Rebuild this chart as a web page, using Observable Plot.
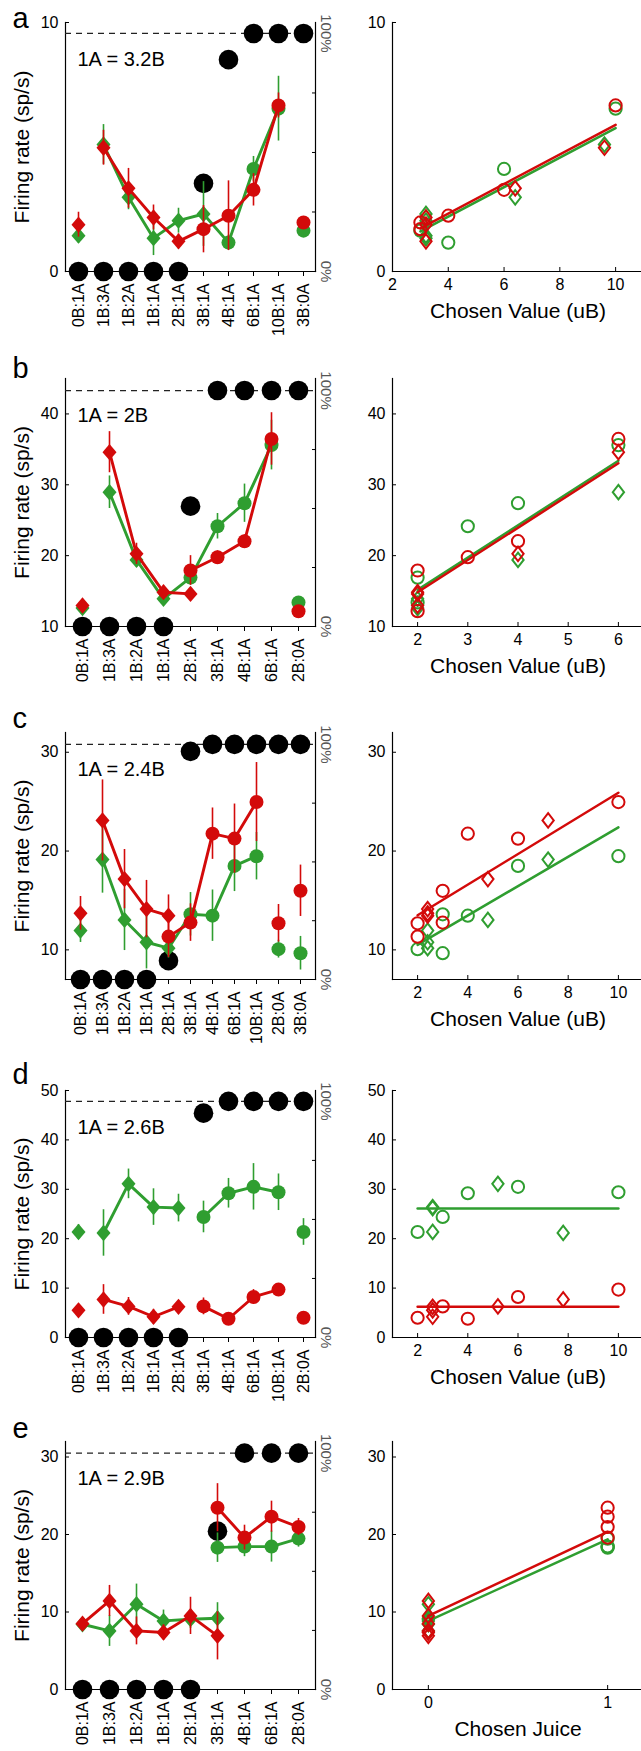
<!DOCTYPE html>
<html><head><meta charset="utf-8">
<script src="https://cdn.jsdelivr.net/npm/d3@7"></script>
<script src="https://cdn.jsdelivr.net/npm/@observablehq/plot@0.6"></script>
<style>
body{margin:0;background:#fff;}
#root{position:relative;width:641px;height:1751px;overflow:hidden;background:#fff;}
#root svg{position:absolute;}
</style></head><body><div id="root"></div>
<script>
// ---------- DATA ----------
// Panel a
const aCats = ["0B:1A","1B:3A","1B:2A","1B:1A","2B:1A","3B:1A","4B:1A","6B:1A","10B:1A","3B:0A"];
const aRatio = 3.2;
const aPctB = [0,0,0,0,0,37,89,100,100,100];
const aGreenA = [1.44,5.10,2.98,1.34,2.04,2.31,null,null,null,null];
const aGreenAErr = [0.3,0.8,0.5,0.7,0.5,1.3,null,null,null,null];
const aGreenB = [null,null,null,null,null,null,1.16,4.12,6.54,1.64];
const aGreenBErr = [null,null,null,null,null,null,0.3,0.5,1.3,0.2];
const aRedA = [1.88,4.97,3.34,2.17,1.21,null,null,null,null,null];
const aRedAErr = [0.5,0.7,0.8,0.5,0.3,null,null,null,null,null];
const aRedB = [null,null,null,null,null,1.70,2.24,3.28,6.67,1.97];
const aRedBErr = [null,null,null,null,null,0.95,1.4,0.65,0.5,0.2];
const aBreaks = [1,9];
const aYDomain = [0,10], aYTicks = [0,10], aFull = 9.56;
const aXDomain = [2,11], aXTicks = [2,4,6,8,10];
const aFitX = [3,10], aFitGreen = [1.61,5.76], aFitRed = [1.73,5.89];

// Panel b
const bCats = ["0B:1A","1B:3A","1B:2A","1B:1A","2B:1A","3B:1A","4B:1A","6B:1A","2B:0A"];
const bRatio = 2;
const bPctB = [0,0,0,0,51,100,100,100,100];
const bGreenA = [12.6,28.95,19.4,13.9,null,null,null,null,null];
const bGreenAErr = [0.5,2.3,1.0,0.6,null,null,null,null,null];
const bGreenB = [null,null,null,null,16.9,24.15,27.4,35.6,13.4];
const bGreenBErr = [null,null,null,null,1.0,1.8,2.7,3.5,0.4];
const bRedA = [12.96,34.6,20.25,14.84,14.6,null,null,null,null];
const bRedAErr = [0.6,2.9,1.5,0.8,0.6,null,null,null,null];
const bRedB = [null,null,null,null,17.9,19.78,22.04,36.47,12.16];
const bRedBErr = [null,null,null,null,2.1,0.9,0.9,3.7,0.4];
const bBreaks = [1,8];
const bYDomain = [10,45], bYTicks = [10,20,30,40], bFull = 43.3;
const bXDomain = [1.5,6.5], bXTicks = [2,3,4,5,6];
const bFitX = [2,6], bFitGreen = [15.17,33.4], bFitRed = [14.84,33.04];

// Panel c
const cCats = ["0B:1A","1B:3A","1B:2A","1B:1A","2B:1A","3B:1A","4B:1A","6B:1A","10B:1A","2B:0A","3B:0A"];
const cRatio = 2.4;
const cPctB = [0,0,0,0,8,97,100,100,100,100,100];
const cGreenA = [11.95,19.14,13.03,10.77,10.17,null,null,null,null,null,null];
const cGreenAErr = [1.2,3.4,3.1,2.7,1.0,null,null,null,null,null,null];
const cGreenB = [null,null,null,null,null,13.6,13.46,18.5,19.48,10.07,9.66];
const cGreenBErr = [null,null,null,null,null,2.2,2.6,2.6,2.4,0.9,1.7];
const cRedA = [13.7,23.1,17.16,14.13,13.46,null,null,null,null,null,null];
const cRedAErr = [1.7,4.1,3.0,2.9,2.1,null,null,null,null,null,null];
const cRedB = [null,null,null,null,11.34,12.76,21.76,21.26,24.96,12.69,15.98];
const cRedBErr = [null,null,null,null,2.1,1.9,2.6,3.5,4.0,1.9,2.6];
const cBreaks = [1,9,10];
const cYDomain = [7,32], cYTicks = [10,20,30], cFull = 30.8;
const cXDomain = [1,11], cXTicks = [2,4,6,8,10];
const cFitX = [2,10], cFitGreen = [10.5,22.4], cFitRed = [13.5,25.9];

// Panel d
const dCats = ["0B:1A","1B:3A","1B:2A","1B:1A","2B:1A","3B:1A","4B:1A","6B:1A","10B:1A","2B:0A"];
const dRatio = 2.6;
const dPctB = [0,0,0,0,0,95,100,100,100,100];
const dGreenA = [21.36,21.16,31.1,26.4,26.2,null,null,null,null,null];
const dGreenAErr = [1.5,4.7,3.0,3.7,2.8,null,null,null,null,null];
const dGreenB = [null,null,null,null,null,24.4,29.2,30.5,29.4,21.36];
const dGreenBErr = [null,null,null,null,null,3.2,3.0,4.7,3.7,2.7];
const dRedA = [5.5,7.7,6.3,4.2,6.2,null,null,null,null,null];
const dRedAErr = [0.8,3.0,1.8,1.5,1.0,null,null,null,null,null];
const dRedB = [null,null,null,null,null,6.3,3.8,8.2,9.7,4.0];
const dRedBErr = [null,null,null,null,null,1.7,0.8,1.5,0.6,0.6];
const dBreaks = [1,5,9];
const dYDomain = [0,50], dYTicks = [0,10,20,30,40,50], dFull = 47.8;
const dXDomain = [1,11], dXTicks = [2,4,6,8,10];
const dFitX = [2,10], dFitGreen = [26.1,26.1], dFitRed = [6.2,6.2];

// Panel e
const eCats = ["0B:1A","1B:3A","1B:2A","1B:1A","2B:1A","3B:1A","4B:1A","6B:1A","2B:0A"];
const eRatio = 2.9;
const ePctB = [0,0,0,0,0,67,100,100,100];
const eGreenA = [8.42,7.56,11.0,8.85,9.07,9.2,null,null,null];
const eGreenAErr = [0.5,2.0,2.6,1.4,1.2,2.0,null,null,null];
const eGreenB = [null,null,null,null,null,18.3,18.44,18.44,19.47];
const eGreenBErr = [null,null,null,null,null,1.9,1.3,2.0,1.1];
const eRedA = [8.5,11.43,7.56,7.35,9.5,6.92,null,null,null];
const eRedAErr = [0.5,2.0,1.8,1.0,2.4,3.1,null,null,null];
const eRedB = [null,null,null,null,null,23.46,19.6,22.3,20.97];
const eRedBErr = [null,null,null,null,null,3.1,1.6,2.0,1.1];
const eBreaks = [];
const eYDomain = [0,32], eYTicks = [0,10,20,30], eFull = 30.5;
const eXDomain = [-0.2,1.2], eXTicks = [0,1];
const eFitX = [0,1], eFitGreen = [8.85,19.38], eFitRed = [9.5,20.33];

const panelLetters = ["a","b","c","d","e"];
const yLabel = "Firing rate (sp/s)";
const xLabels = ["Chosen Value (uB)","Chosen Value (uB)","Chosen Value (uB)","Chosen Value (uB)","Chosen Juice"];

// ---------- build ----------
const specs = [
  {cats:aCats, ratio:aRatio, pct:aPctB, gA:aGreenA, gAe:aGreenAErr, gB:aGreenB, gBe:aGreenBErr, rA:aRedA, rAe:aRedAErr, rB:aRedB, rBe:aRedBErr, breaks:aBreaks, yDomain:aYDomain, yTicks:aYTicks, full:aFull, xDomain:aXDomain, xTicks:aXTicks, fitX:aFitX, fitG:aFitGreen, fitR:aFitRed, juice:false},
  {cats:bCats, ratio:bRatio, pct:bPctB, gA:bGreenA, gAe:bGreenAErr, gB:bGreenB, gBe:bGreenBErr, rA:bRedA, rAe:bRedAErr, rB:bRedB, rBe:bRedBErr, breaks:bBreaks, yDomain:bYDomain, yTicks:bYTicks, full:bFull, xDomain:bXDomain, xTicks:bXTicks, fitX:bFitX, fitG:bFitGreen, fitR:bFitRed, juice:false},
  {cats:cCats, ratio:cRatio, pct:cPctB, gA:cGreenA, gAe:cGreenAErr, gB:cGreenB, gBe:cGreenBErr, rA:cRedA, rAe:cRedAErr, rB:cRedB, rBe:cRedBErr, breaks:cBreaks, yDomain:cYDomain, yTicks:cYTicks, full:cFull, xDomain:cXDomain, xTicks:cXTicks, fitX:cFitX, fitG:cFitGreen, fitR:cFitRed, juice:false},
  {cats:dCats, ratio:dRatio, pct:dPctB, gA:dGreenA, gAe:dGreenAErr, gB:dGreenB, gBe:dGreenBErr, rA:dRedA, rAe:dRedAErr, rB:dRedB, rBe:dRedBErr, breaks:dBreaks, yDomain:dYDomain, yTicks:dYTicks, full:dFull, xDomain:dXDomain, xTicks:dXTicks, fitX:dFitX, fitG:dFitGreen, fitR:dFitRed, juice:false},
  {cats:eCats, ratio:eRatio, pct:ePctB, gA:eGreenA, gAe:eGreenAErr, gB:eGreenB, gBe:eGreenBErr, rA:eRedA, rAe:eRedAErr, rB:eRedB, rBe:eRedBErr, breaks:eBreaks, yDomain:eYDomain, yTicks:eYTicks, full:eFull, xDomain:eXDomain, xTicks:eXTicks, fitX:eFitX, fitG:eFitGreen, fitR:eFitRed, juice:true}
];

// layout (pixels)
const layout = [
  {top:22, h:249, letterDy:5},
  {top:378, h:248, letterDy:-1},
  {top:732, h:247, letterDy:-5},
  {top:1090, h:247, letterDy:-7},
  {top:1441, h:248, letterDy:-4}
];
const MT = 45, MB = 75;
const FONT = "Liberation Sans, Arial, Helvetica, sans-serif";
const GREEN = "#2f9e30", RED = "#d30a0a";
const fmt = x => `${x}`;

function diamondSym(ratioWH){
  return {draw(ctx, size){
    const r = Math.sqrt(size/Math.PI), h = r*1.15, w = h*ratioWH;
    ctx.moveTo(0,-h); ctx.lineTo(w,0); ctx.lineTo(0,h); ctx.lineTo(-w,0); ctx.closePath();
  }};
}
const diamondFilled = diamondSym(0.86);
const diamondHollow = diamondSym(0.78);

function parseCat(c){ const m = /^(\d+)B:(\d+)A$/.exec(c); return {nB:+m[1], nA:+m[2]}; }

function buildPoints(p, color){
  const A = color==="g" ? p.gA : p.rA, Ae = color==="g" ? p.gAe : p.rAe;
  const B = color==="g" ? p.gB : p.rB, Be = color==="g" ? p.gBe : p.rBe;
  const pts = [];
  p.cats.forEach((cat,i)=>{
    const {nA,nB} = parseCat(cat);
    if (A[i]!=null) pts.push({i, cat, kind:"A", v:A[i], e:Ae[i], cx: p.juice ? 0 : nA*p.ratio});
    if (B[i]!=null) pts.push({i, cat, kind:"B", v:B[i], e:Be[i], cx: p.juice ? 1 : nB});
  });
  let seg = 0, prev = null;
  for (const q of pts){
    if (prev && (q.i===prev.i || p.breaks.includes(q.i))) seg++;
    q.seg = seg; prev = q;
  }
  return pts;
}

function leftSeries(pts, color){
  return [
    Plot.line(pts, {x:"cat", y:"v", z:"seg", stroke:color, strokeWidth:2.9}),
    Plot.ruleX(pts, {x:"cat", y1:d=>d.v-d.e, y2:d=>d.v+d.e, stroke:color, strokeWidth:1.6}),
    Plot.dot(pts.filter(d=>d.kind==="A"), {x:"cat", y:"v", symbol:diamondFilled, r:7.1, fill:color}),
    Plot.dot(pts.filter(d=>d.kind==="B"), {x:"cat", y:"v", r:7, fill:color})
  ];
}

function leftPlot(p, k){
  const L = layout[k];
  const lo = p.yDomain[0];
  const pctY = v => lo + v/100*(p.full - lo);
  const g = buildPoints(p,"g"), r = buildPoints(p,"r");
  const black = p.cats.map((c,i)=>({cat:c, y:pctY(p.pct[i])}));
  const svg = Plot.plot({
    width:340, height:MT+L.h+MB, marginTop:MT, marginBottom:MB, marginLeft:65, marginRight:25,
    style:{fontFamily:FONT, fontSize:"16px", color:"#000", background:"transparent", overflow:"visible"},
    x:{type:"point", domain:p.cats, padding:0.5},
    y:{domain:p.yDomain},
    marks:[
      Plot.frame({anchor:"left", strokeWidth:1.2}),
      Plot.frame({anchor:"right", strokeWidth:1.2}),
      Plot.frame({anchor:"bottom", strokeWidth:1.2}),
      Plot.axisY({ticks:p.yTicks, tickFormat:fmt, tickSize:-4, tickPadding:11, fontSize:16, label:null}),
      Plot.axisY({anchor:"right", ticks:[25,50,75].map(pctY), tickSize:-4, tickFormat:()=>"", label:null}),
      Plot.axisX({tickRotate:-90, tickSize:5, tickPadding:7, fontSize:16, label:null}),
      Plot.ruleY([pctY(100)], {stroke:"#222", strokeWidth:1.2, strokeDasharray:"6,5"}),
      Plot.dot(black, {x:"cat", y:"y", r:9.8, fill:"#000"}),
      ...leftSeries(g, GREEN),
      ...leftSeries(r, RED),
      Plot.text([`1A = ${p.ratio}B`], {frameAnchor:"top-left", dx:12, dy:37, textAnchor:"start", lineAnchor:"middle", fontSize:20}),
      Plot.text([panelLetters[k]], {frameAnchor:"top-left", dx:-53, dy:L.letterDy, textAnchor:"start", lineAnchor:"bottom", fontSize:29}),
      Plot.text([yLabel], {frameAnchor:"left", rotate:-90, dx:-43, textAnchor:"middle", lineAnchor:"middle", fontSize:21}),
      Plot.text([100,0], {y:d=>pctY(d), text:d=>d+"%", frameAnchor:"right", rotate:90, dx:10, textAnchor:"middle", lineAnchor:"middle", fill:"#555", fontSize:15})
    ]
  });
  svg.style.left = "0px"; svg.style.top = (L.top-MT)+"px";
  return svg;
}

function rightPlot(p, k){
  const L = layout[k];
  const g = buildPoints(p,"g"), r = buildPoints(p,"r");
  const hollow = (pts, color) => [
    Plot.dot(pts.filter(d=>d.kind==="A"), {x:"cx", y:"v", symbol:diamondHollow, r:6.3, stroke:color, strokeWidth:2, fill:"none"}),
    Plot.dot(pts.filter(d=>d.kind==="B"), {x:"cx", y:"v", r:6.1, stroke:color, strokeWidth:2, fill:"none"})
  ];
  const fit = (ys, color) => Plot.line(p.fitX.map((x,i)=>({x, y:ys[i]})), {x:"x", y:"y", stroke:color, strokeWidth:2.5});
  const svg = Plot.plot({
    width:323, height:MT+L.h+MB, marginTop:MT, marginBottom:MB, marginLeft:72, marginRight:0,
    style:{fontFamily:FONT, fontSize:"16px", color:"#000", background:"transparent", overflow:"visible"},
    x:{domain:p.xDomain},
    y:{domain:p.yDomain},
    marks:[
      Plot.frame({anchor:"left", strokeWidth:1.2}),
      Plot.frame({anchor:"bottom", strokeWidth:1.2}),
      Plot.axisY({ticks:p.yTicks, tickFormat:fmt, tickSize:-4, tickPadding:11, fontSize:16, label:null}),
      Plot.axisX({ticks:p.xTicks, tickFormat:fmt, tickSize:-4, tickPadding:11, fontSize:16, label:null}),
      ...hollow(g, GREEN),
      fit(p.fitG, GREEN),
      ...hollow(r, RED),
      fit(p.fitR, RED),
      Plot.text([xLabels[k]], {frameAnchor:"bottom", dy:40, textAnchor:"middle", lineAnchor:"middle", fontSize:21})
    ]
  });
  svg.style.left = "320px"; svg.style.top = (L.top-MT)+"px";
  return svg;
}

const root = document.getElementById("root");
specs.forEach((p,k)=>{
  root.appendChild(leftPlot(p,k));
  root.appendChild(rightPlot(p,k));
});
</script>
</body></html>
